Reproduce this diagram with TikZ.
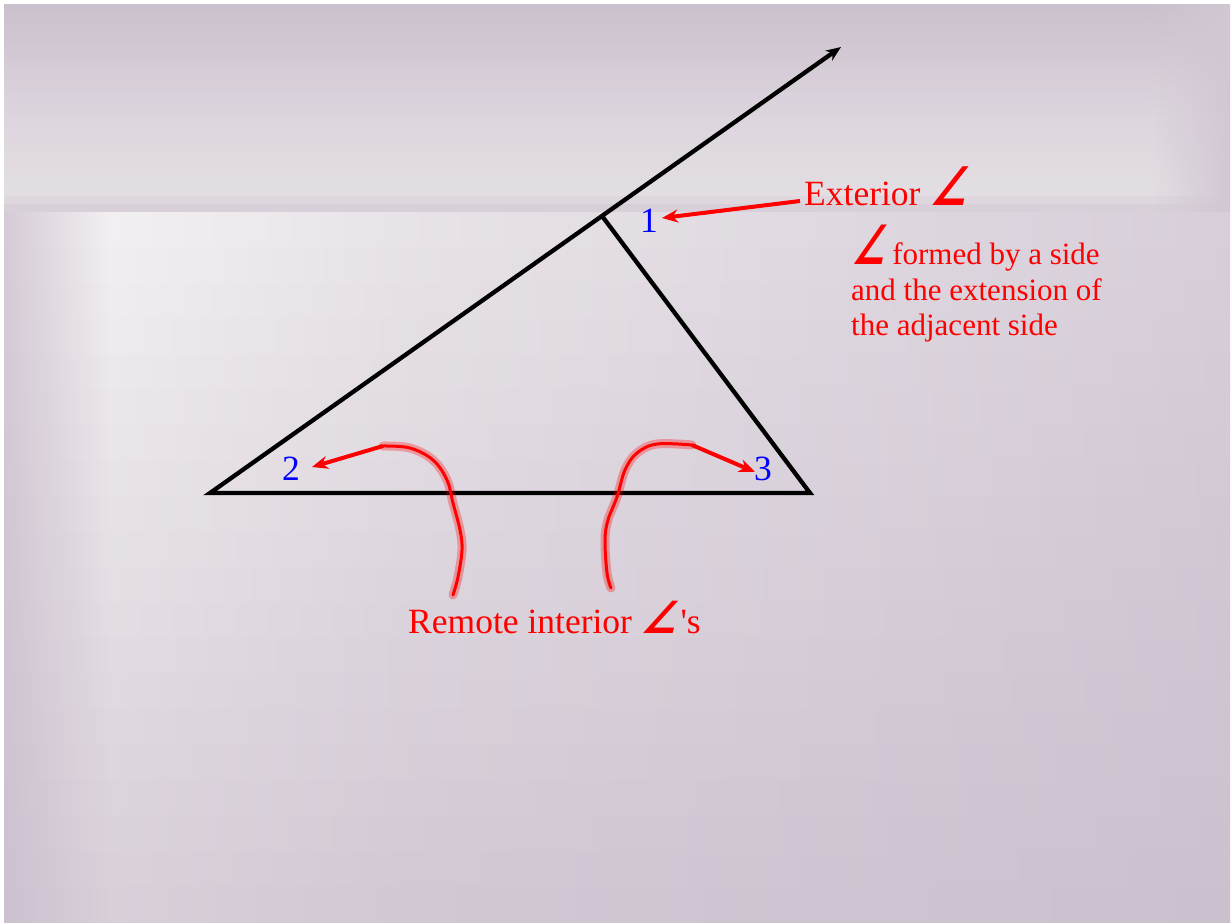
\documentclass[tikz,border=0pt]{standalone}
\usepackage{fontspec}
\setmainfont{Liberation Serif}
\newfontfamily\angfont{DejaVu Sans}[FakeSlant=0.3]
\usetikzlibrary{arrows.meta}
\definecolor{bgT0}{HTML}{CBC0CD}
\definecolor{bgT1}{HTML}{DDD6DE}
\definecolor{bgT2}{HTML}{E3DEE3}
\definecolor{bgT3}{HTML}{D8D0D9}
\definecolor{bgEdge}{HTML}{D1C7D3}
\definecolor{LtA}{HTML}{D5CBD6}
\definecolor{LtB}{HTML}{F2EFF2}
\definecolor{LtC}{HTML}{E8E3E8}
\definecolor{LtD}{HTML}{D7CED9}
\definecolor{LbA}{HTML}{CCC1CF}
\definecolor{LbB}{HTML}{D8CFD9}
\definecolor{LbC}{HTML}{D2C8D4}
\definecolor{LbD}{HTML}{CBC0CE}
\newcommand{\angsym}[2]{\scalebox{#1}[#2]{\angfont\bfseries ∠}}
\begin{document}
\begin{tikzpicture}[x=1pt,y=-1pt,
  lbl/.style={text=red, font=\fontsize{35.5}{40}\selectfont, inner sep=0pt, anchor=base west},
  desc/.style={text=red, font=\fontsize{31}{36}\selectfont, inner sep=0pt, anchor=base west},
  num/.style={text=blue, font=\fontsize{35.5}{40}\selectfont, inner sep=0pt, anchor=base},
  redarrow/.style={red, line width=4pt, -{Stealth[length=16pt,width=13pt]}},
  halo/.style={red, opacity=.3, line width=9pt, line cap=round, line join=round},
  handstroke/.style={red, line width=3pt, line cap=round, line join=round},
  side/.style={black, line width=4.3pt, line join=miter, -{Stealth[length=15pt,width=12pt]}}]
\useasboundingbox (0,0) rectangle (1232,922);
\fill[white] (0,0) rectangle (1232,922);
% top band, in rows
\foreach \i in {0,...,25}{
  \pgfmathsetmacro{\ya}{4+\i*8}
  \pgfmathsetmacro{\yb}{\ya+8.6}
  \ifnum\i<15
    \pgfmathtruncatemacro{\p}{100-\i*100/14}
    \colorlet{cR}{bgT0!\p!bgT1}
  \else\ifnum\i<24
    \pgfmathtruncatemacro{\p}{100-(\i-15)*100/8}
    \colorlet{cR}{bgT1!\p!bgT2}
  \else
    \pgfmathtruncatemacro{\p}{100-(\i-23)*100/2}
    \colorlet{cR}{bgT2!\p!bgT3}
  \fi\fi
  \fill[cR] (4,\ya) rectangle (1151,\yb);
  \shade[left color=cR, right color=bgEdge] (1150,\ya) rectangle (1230,\yb);
}
% lower region
\foreach \i in {0,...,19}{
  \pgfmathsetmacro{\ya}{212+\i*35.5}
  \pgfmathsetmacro{\yb}{\ya+36}
  \pgfmathtruncatemacro{\p}{100-\i*100/19}
  \colorlet{cA}{LtA!\p!LbA}
  \colorlet{cB}{LtB!\p!LbB}
  \colorlet{cC}{LtC!\p!LbC}
  \colorlet{cD}{LtD!\p!LbD}
  \shade[left color=cA,right color=cB] (4,\ya) rectangle (111,\yb);
  \shade[left color=cB,right color=cC] (110,\ya) rectangle (401,\yb);
  \shade[left color=cC,right color=cD] (400,\ya) rectangle (1230,\yb);
}
% triangle and extended side
\coordinate (A) at (210,493);
\coordinate (B) at (810,493);
\coordinate (C) at (602,216);
\coordinate (tip) at (841,47);
\draw[side] (C) -- (B) -- (A) -- (tip);
% labels
\node[num] (n1) at (649,232) {1};
\node[num] (n2) at (291,480) {2};
\node[num] (n3) at (763,480) {3};
\node[lbl] (ext) at (804,205) {Exterior \angsym{1.16}{1.5}};
\node[desc] (d1) at (851,264) {\angsym{1.2}{1.75}\ formed by a side};
\node[desc] (d2) at (851,300) {and the extension of};
\node[desc] (d3) at (851,335) {the adjacent side};
\node[lbl] (rem) at (408,633) {Remote interior \angsym{1.12}{1.25}\kern4pt\textquotesingle s};
% exterior arrow
\coordinate (e1) at (800,201);
\coordinate (e1t) at (662,218);
\draw[redarrow] (e1) -- (e1t);
% remote interior strokes
\coordinate (s2) at (383,446);
\coordinate (t2) at (312,467);
\coordinate (s3) at (692,445);
\coordinate (t3) at (755,472);
\draw[halo] plot[smooth,tension=0.6] coordinates {(383,446) (410,448) (433,460) (447,480) (453,503) (460,530) (462,550) (458,577) (453,595)};
\draw[handstroke] plot[smooth,tension=0.6] coordinates {(383,446) (410,448) (433,460) (447,480) (453,503) (460,530) (462,550) (458,577) (453,595)};
\draw[halo] plot[smooth,tension=0.6] coordinates {(692,445) (657,444) (637,453) (625,470) (617,497) (608,520) (605,540) (607,573) (611,588)};
\draw[handstroke] plot[smooth,tension=0.6] coordinates {(692,445) (657,444) (637,453) (625,470) (617,497) (608,520) (605,540) (607,573) (611,588)};
\draw[redarrow] (s2) -- (t2);
\draw[redarrow] (s3) -- (t3);
\end{tikzpicture}
\end{document}
